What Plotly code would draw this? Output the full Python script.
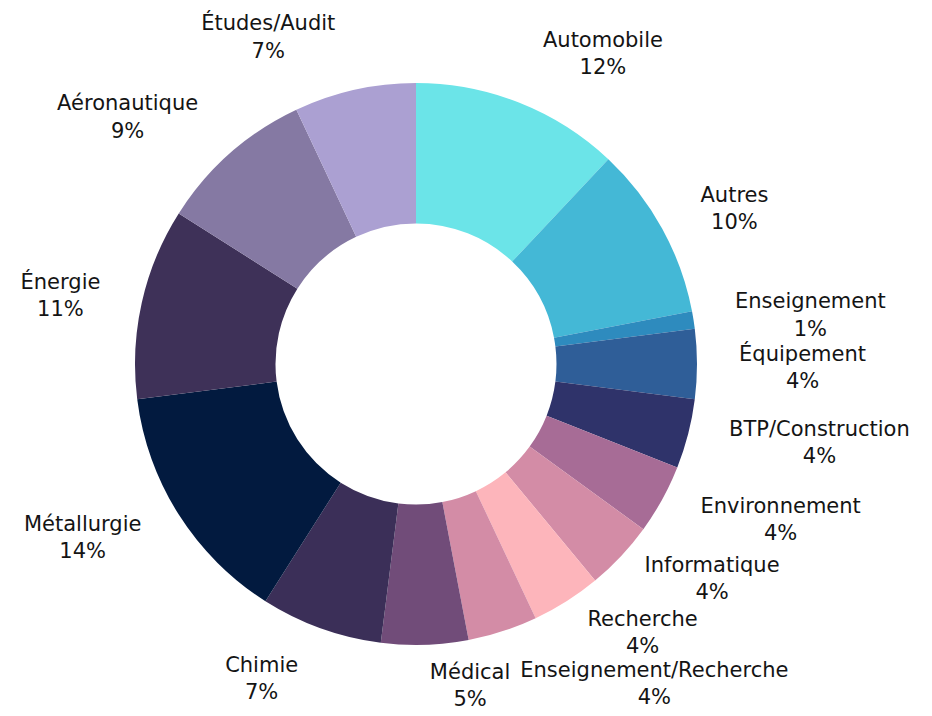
import plotly.graph_objects as go

labels = ["Automobile", "Autres", "Enseignement", "Équipement", "BTP/Construction",
          "Environnement", "Informatique", "Recherche", "Enseignement/Recherche",
          "Médical", "Chimie", "Métallurgie", "Énergie", "Aéronautique", "Études/Audit"]
values = [12, 10, 1, 4, 4, 4, 4, 4, 4, 5, 7, 14, 11, 9, 7]
colors = ["#6BE4E8", "#44B8D6", "#2E8BBE", "#2F5E98", "#2F336A",
          "#A76C96", "#D38CA6", "#FDB5BB", "#D38CA6", "#714C79",
          "#3B2F58", "#021A3F", "#3E3158", "#8579A3", "#ABA0D2"]

# which labels go on which (invisible) label ring: (labels, ring radius px, rotation deg)
ring_groups = [
    (["Automobile", "Autres", "Enseignement", "Équipement", "BTP/Construction",
      "Environnement", "Chimie", "Métallurgie", "Énergie", "Aéronautique",
      "Études/Audit"], 310, 0),
    (["Informatique", "Recherche", "Enseignement/Recherche"], 296, 0),
    (["Médical"], 296, 1.6),
]

W, H = 932, 716
cx, cy, r = 416, 364, 281      # donut centre / radius in px
FONT = "DejaVu Sans"

def dom(rad):
    return dict(x=[(cx - rad) / W, (cx + rad) / W],
                y=[(H - cy - rad) / H, (H - cy + rad) / H])

sty = "color:#141414;fill-opacity:1"
txt = (f"<span style='{sty}'>%{{label}}</span><br>"
       f"<span style='{sty}'>%{{percent:.0%}}</span>")

fig = go.Figure()
for shown, rad, rot in ring_groups:
    fig.add_trace(go.Pie(
        labels=labels, values=values, sort=False, direction="clockwise", rotation=rot,
        hole=0.9, automargin=False,
        marker=dict(colors=["rgba(255,255,255,0)"] * len(labels), line=dict(width=0)),
        textposition=["outside" if lab in shown else "none" for lab in labels],
        texttemplate=txt,
        outsidetextfont=dict(family=FONT, size=21, color="rgba(255,255,255,0)"),
        showlegend=False, hoverinfo="skip", domain=dom(rad),
    ))
# visible donut
fig.add_trace(go.Pie(
    labels=labels, values=values, sort=False, direction="clockwise", rotation=0,
    hole=0.5, automargin=False,
    marker=dict(colors=colors, line=dict(width=0)),
    textinfo="none", showlegend=False, domain=dom(r),
))
fig.update_layout(
    width=W, height=H,
    margin=dict(l=0, r=0, t=0, b=0),
    paper_bgcolor="white", plot_bgcolor="white",
    font=dict(family=FONT),
)
fig.write_html("out.html")
